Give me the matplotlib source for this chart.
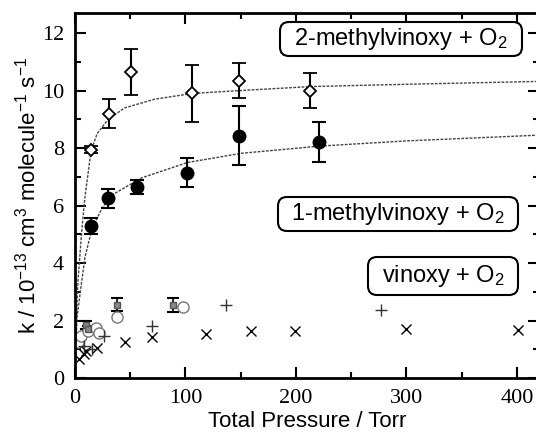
import matplotlib
matplotlib.use("Agg")
import matplotlib.pyplot as plt
from matplotlib.patches import FancyBboxPatch

# 2-methylvinoxy + O2 (open diamonds)
p_2m = [14.5, 31, 51, 106, 148, 213]
k_2m = [7.95, 9.2, 10.66, 9.9, 10.35, 10.0]
e_2m = [0.12, 0.5, 0.8, 1.0, 0.6, 0.6]

# 1-methylvinoxy + O2 (filled circles)
p_1m = [14.5, 30, 56, 101, 148, 221]
k_1m = [5.3, 6.25, 6.65, 7.14, 8.43, 8.22]
e_1m = [0.28, 0.33, 0.25, 0.5, 1.02, 0.7]

# fit curves
fit2_p = [0.3, 1.0, 2.7, 6.3, 9, 14.5, 20, 30, 45, 72, 106, 149, 213, 300, 420]
fit2_k = [0.6, 1.8, 3.4, 5.2, 6.3, 7.9, 8.5, 9.0, 9.4, 9.7, 9.9, 10.0, 10.14, 10.22, 10.32]
fit1_p = [0.3, 1.8, 4.5, 9, 15.4, 25, 35, 60, 102, 151, 222, 300, 420]
fit1_k = [0.5, 2.1, 2.9, 4.2, 5.2, 5.95, 6.4, 6.96, 7.5, 7.82, 8.07, 8.25, 8.45]

# vinoxy + O2 (several data sets)
vin_sq_p = [10, 12, 38, 89]
vin_sq_k = [1.85, 1.72, 2.55, 2.55]
vin_sq_e = [0.15, 0.1, 0.22, 0.25]
vin_o_p = [3, 5, 12, 19, 22, 38, 98]
vin_o_k = [1.25, 1.45, 1.65, 1.75, 1.55, 2.13, 2.47]
vin_x_p = [4, 8, 10, 20, 45, 70, 119, 159, 199, 300, 401]
vin_x_k = [0.65, 0.85, 0.95, 1.05, 1.25, 1.43, 1.53, 1.62, 1.64, 1.7, 1.67]
vin_p_p = [8, 15, 26, 70, 137, 277]
vin_p_k = [1.1, 1.0, 1.45, 1.8, 2.55, 2.37]

sans = "Liberation Sans"
serif = "Liberation Serif"
plt.rcParams["mathtext.fontset"] = "custom"
plt.rcParams["mathtext.rm"] = sans
plt.rcParams["mathtext.it"] = sans
plt.rcParams["mathtext.default"] = "rm"

fig = plt.figure(figsize=(5.36, 4.34), dpi=100)
ax = fig.add_axes([75 / 536, 56 / 434, 464 / 536, 365 / 434])

ax.plot(fit2_p, fit2_k, color="#444444", lw=1.0, ls=(0, (2, 1)))
ax.plot(fit1_p, fit1_k, color="#444444", lw=1.0, ls=(0, (2, 1)))

ax.errorbar(p_2m, k_2m, yerr=e_2m, fmt="D", ms=6, mfc="white", mec="black",
            mew=1.3, ecolor="black", elinewidth=1.5, capsize=5, capthick=1.5)
ax.errorbar(p_1m, k_1m, yerr=e_1m, fmt="o", ms=9, mfc="black", mec="black",
            ecolor="black", elinewidth=1.5, capsize=5, capthick=1.5)

ax.errorbar(vin_sq_p, vin_sq_k, yerr=vin_sq_e, fmt="s", ms=5, mfc="#888888",
            mec="#555555", ecolor="black", elinewidth=1.2, capsize=4, capthick=1.5)
ax.plot(vin_o_p, vin_o_k, "o", ms=8, mfc="white", mec="#777777", mew=1.0,
        ls="none")
ax.plot(vin_x_p, vin_x_k, "x", ms=7, color="black", mew=1.0, ls="none")
ax.plot(vin_p_p, vin_p_k, "+", ms=8, color="#333333", mew=1.0, ls="none")

ax.set_xlim(0, 420)
ax.set_ylim(0, 12.7)
ax.set_xticks([0, 100, 200, 300, 400])
ax.set_xticks([50, 150, 250, 350], minor=True)
ax.set_yticks([0, 2, 4, 6, 8, 10, 12])
ax.set_yticks([1, 3, 5, 7, 9, 11], minor=True)
ax.tick_params(which="both", direction="in", top=True, right=True, width=1.5,
               labelsize=16, pad=8)
ax.tick_params(which="major", length=8)
ax.tick_params(which="minor", length=4)
for lab in ax.get_xticklabels() + ax.get_yticklabels():
    lab.set_fontfamily(serif)
for s in ax.spines.values():
    s.set_linewidth(2)

ax.set_xlabel("Total Pressure / Torr", fontsize=16, family=sans, labelpad=2)
ax.set_ylabel("k / 10$^{-13}$ cm$^3$ molecule$^{-1}$ s$^{-1}$", fontsize=16,
              family=sans, labelpad=1)


def label_box(xc, yc, w, h, text):
    # positions in figure pixels
    box = FancyBboxPatch((xc - w / 2, yc - h / 2), w, h,
                         boxstyle="round,pad=0,rounding_size=9",
                         transform=None, fc="white", ec="black", lw=1.5,
                         zorder=5)
    fig.patches.append(box)
    fig.text(xc / 536, yc / 434, text, ha="center", va="center",
             fontsize=17, family=sans, zorder=6)


label_box(401, 434 - 39, 242, 34, "2-methylvinoxy + O$_2$")
label_box(398, 434 - 214, 240, 34, "1-methylvinoxy + O$_2$")
label_box(443, 434 - 276, 150, 38, "vinoxy + O$_2$")

fig.savefig("out.png", dpi=100)
